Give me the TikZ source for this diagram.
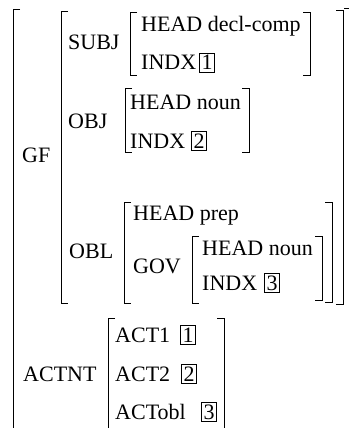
\documentclass[tikz,border=0pt]{standalone}
\usepackage{fontspec}
\setmainfont{Liberation Serif}
\begin{document}
\begin{tikzpicture}[x=1pt,y=-1pt,
  lbl/.style={anchor=base west, inner sep=0pt, font=\fontsize{22}{26}\selectfont},
  tag/.style={draw, anchor=base west, inner xsep=2.2pt, inner ysep=2.4pt, line width=0.6pt, font=\fontsize{22}{26}\selectfont},
  br/.style={line width=0.8pt}]
\useasboundingbox (0,0) rectangle (348,428);
% outer brackets
\draw[br] (20,9) -- (13,9) -- (13,429);
\draw[br] (344,8) -- (349,8) -- (349,429);
% GF value
\draw[br] (68,11) -- (61,11) -- (61,303) -- (68,303);
\draw[br] (336,10) -- (343,10) -- (343,304) -- (336,304);
% SUBJ value
\draw[br] (137,12) -- (130,12) -- (130,75) -- (137,75);
\draw[br] (303,12) -- (310,12) -- (310,75) -- (303,75);
% OBJ value
\draw[br] (132,88) -- (125,88) -- (125,152) -- (132,152);
\draw[br] (242,88) -- (249,88) -- (249,152) -- (242,152);
% OBL value
\draw[br] (131,202) -- (124,202) -- (124,303) -- (131,303);
\draw[br] (325,202) -- (332,202) -- (332,302) -- (325,302);
% GOV value
\draw[br] (199,236) -- (192,236) -- (192,303) -- (199,303);
\draw[br] (315,236) -- (322,236) -- (322,300) -- (315,300);
% ACTNT value
\draw[br] (115,318) -- (108,318) -- (108,429);
\draw[br] (217,318) -- (224,318) -- (224,429);
% labels
\node[lbl] (gf) at (22,162) {GF};
\node[lbl] (subj) at (68,50) {SUBJ};
\node[lbl] (sh) at (141,32) {HEAD decl-comp};
\node[lbl] (si) at (141,70) {INDX};
\node[tag] (t1) at (199,70) {1};
\node[lbl] (obj) at (68,128) {OBJ};
\node[lbl] (oh) at (130,109) {HEAD noun};
\node[lbl] (oi) at (130,148) {INDX};
\node[tag] (t2) at (191,148) {2};
\node[lbl] (obl) at (69,258) {OBL};
\node[lbl] (bh) at (133,220) {HEAD prep};
\node[lbl] (gov) at (133,273) {GOV};
\node[lbl] (gh) at (202,255) {HEAD noun};
\node[lbl] (gi) at (202,290) {INDX};
\node[tag] (t3) at (264,290) {3};
\node[lbl] (actnt) at (23,381) {ACTNT};
\node[lbl] (a1) at (115,342) {ACT1};
\node[tag] (a1t) at (180,342) {1};
\node[lbl] (a2) at (115,381) {ACT2};
\node[tag] (a2t) at (181,381) {2};
\node[lbl] (ao) at (115,419) {ACTobl};
\node[tag] (aot) at (201,419) {3};
\end{tikzpicture}
\end{document}
